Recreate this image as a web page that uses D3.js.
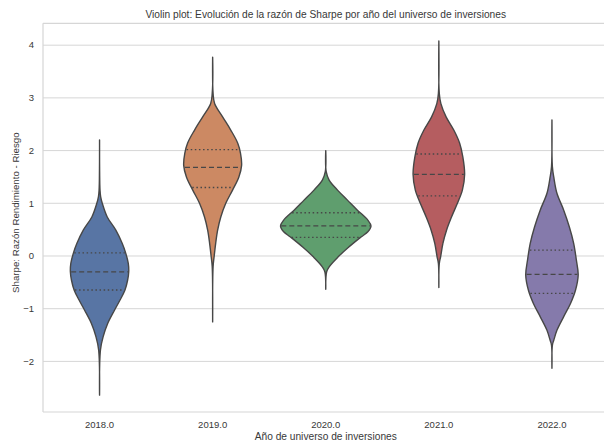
<!DOCTYPE html>
<html>
<head>
<meta charset="utf-8">
<script src="https://cdn.jsdelivr.net/npm/d3@7/dist/d3.min.js"></script>
<style>
  body { margin: 0; background: #fff; }
  svg { display: block; }
  text { font-family: "Liberation Sans", Arial, sans-serif; fill: #383838; }
</style>
</head>
<body>
<svg id="chart" width="604" height="441"></svg>
<script>
// Categories (year of the investment universe)
const years = ["2018.0", "2019.0", "2020.0", "2021.0", "2022.0"];
const colors = ["#5875a4", "#cc8963", "#5f9e6e", "#b55d60", "#857aab"];
const yTicks = [-2, -1, 0, 1, 2, 3, 4];

// Kernel density outline per year: [Sharpe ratio, relative density]
const density2018 = [
  [2.20, 0], [1.25, 0.01], [1.12, 0.025], [1.00, 0.06], [0.74, 0.17], [0.49, 0.36],
  [0.24, 0.50], [0.05, 0.58], [-0.14, 0.635], [-0.30, 0.645], [-0.46, 0.62],
  [-0.65, 0.56], [-0.84, 0.45], [-1.03, 0.33], [-1.28, 0.18], [-1.53, 0.08],
  [-1.78, 0.02], [-2.64, 0]
];
const density2019 = [
  [3.77, 0], [3.08, 0.01], [2.89, 0.045], [2.64, 0.22], [2.39, 0.40], [2.14, 0.555],
  [1.95, 0.615], [1.72, 0.64], [1.50, 0.58], [1.25, 0.44], [1.00, 0.29],
  [0.74, 0.18], [0.49, 0.11], [0.24, 0.067], [-0.01, 0.033], [-0.20, 0.01], [-1.25, 0]
];
const density2020 = [
  [2.00, 0], [1.60, 0.01], [1.44, 0.075], [1.25, 0.26], [1.06, 0.48], [0.87, 0.70],
  [0.68, 0.93], [0.57, 1.00], [0.46, 0.93], [0.36, 0.78], [0.17, 0.51],
  [-0.02, 0.27], [-0.20, 0.08], [-0.30, 0.02], [-0.63, 0]
];
const density2021 = [
  [4.08, 0], [3.08, 0.01], [2.89, 0.045], [2.64, 0.16], [2.39, 0.33], [2.14, 0.46],
  [1.88, 0.53], [1.55, 0.57], [1.25, 0.52], [1.00, 0.41], [0.74, 0.28],
  [0.49, 0.17], [0.24, 0.09], [-0.01, 0.04], [-0.14, 0.01], [-0.60, 0]
];
const density2022 = [
  [2.58, 0], [1.69, 0.01], [1.50, 0.04], [1.19, 0.11], [0.87, 0.26], [0.55, 0.385],
  [0.24, 0.48], [-0.08, 0.54], [-0.36, 0.58], [-0.65, 0.52], [-0.90, 0.41],
  [-1.15, 0.26], [-1.41, 0.11], [-1.60, 0.04], [-1.69, 0.01], [-2.13, 0]
];

// Quartiles per year: [Q1, median, Q3]
const quartiles2018 = [-0.645, -0.30, 0.06];
const quartiles2019 = [1.30, 1.68, 2.02];
const quartiles2020 = [0.355, 0.57, 0.82];
const quartiles2021 = [1.14, 1.55, 1.935];
const quartiles2022 = [-0.71, -0.35, 0.11];

const densities = [density2018, density2019, density2020, density2021, density2022];
const quartiles = [quartiles2018, quartiles2019, quartiles2020, quartiles2021, quartiles2022];

const svg = d3.select("#chart");
const margin = { left: 43, right: -4.5, top: 23.3, bottom: 29 };
const W = 604, H = 441;

const x = d3.scaleBand().domain(years).range([margin.left, W - margin.right]).padding(0);
const y = d3.scaleLinear().domain([-2.96, 4.415]).range([H - margin.bottom, margin.top]);
const w = d3.scaleLinear().domain([0, 1]).range([0, 0.4 * x.bandwidth()]);

const gridColor = "#d6d6d6";
const lineColor = "#474747";

// horizontal grid
svg.append("g").selectAll("line").data(yTicks).join("line")
  .attr("x1", margin.left).attr("x2", W)
  .attr("y1", d => y(d)).attr("y2", d => y(d))
  .attr("stroke", gridColor).attr("stroke-width", 1);

// frame
const [y0, y1] = y.range();
svg.append("line").attr("x1", margin.left).attr("x2", margin.left).attr("y1", y1).attr("y2", y0)
  .attr("stroke", gridColor).attr("stroke-width", 1.2);
svg.append("line").attr("x1", margin.left).attr("x2", W).attr("y1", y0).attr("y2", y0)
  .attr("stroke", gridColor).attr("stroke-width", 1.2);
svg.append("line").attr("x1", margin.left).attr("x2", W).attr("y1", y1).attr("y2", y1)
  .attr("stroke", gridColor).attr("stroke-width", 1.2);

// violins
years.forEach((yr, i) => {
  const cx = x(yr) + x.bandwidth() / 2;
  const prof = densities[i];
  const area = d3.area()
    .y(d => y(d[0]))
    .x0(d => cx - w(d[1]))
    .x1(d => cx + w(d[1]))
    .curve(d3.curveCatmullRom.alpha(0.5));
  svg.append("path").datum(prof)
    .attr("d", area)
    .attr("fill", colors[i])
    .attr("stroke", lineColor)
    .attr("stroke-width", 1.4)
    .attr("stroke-linejoin", "round");

  const halfAt = d3.scaleLinear().domain(prof.map(d => d[0])).range(prof.map(d => d[1]));
  quartiles[i].forEach((q, k) => {
    const hw = w(halfAt(q)) - 0.8;
    svg.append("line")
      .attr("x1", cx - hw).attr("x2", cx + hw)
      .attr("y1", y(q)).attr("y2", y(q))
      .attr("stroke", lineColor)
      .attr("stroke-width", 1.3)
      .attr("stroke-dasharray", k === 1 ? "5,3" : "1.5,2.6");
  });
});

// y axis labels
svg.append("g").selectAll("text").data(yTicks).join("text")
  .attr("x", 34).attr("y", d => y(d)).attr("dy", "0.35em")
  .attr("text-anchor", "end").attr("font-size", 9.5)
  .text(d => d < 0 ? "\u2212" + Math.abs(d) : d);

// x axis labels
svg.append("g").selectAll("text").data(years).join("text")
  .attr("x", d => x(d) + x.bandwidth() / 2).attr("y", 428)
  .attr("text-anchor", "middle").attr("font-size", 9.5)
  .text(d => d);

// axis titles
svg.append("text")
  .attr("x", (margin.left + W - margin.right) / 2).attr("y", 439.5)
  .attr("text-anchor", "middle").attr("font-size", 10.2)
  .text("Año de universo de inversiones");

svg.append("text")
  .attr("transform", `translate(18.5,${(y0 + y1) / 2 - 5}) rotate(-90)`)
  .attr("text-anchor", "middle").attr("font-size", 9.7)
  .text("Sharpe: Razón Rendimiento - Riesgo");

svg.append("text")
  .attr("x", (margin.left + W - margin.right) / 2).attr("y", 18.3)
  .attr("text-anchor", "middle").attr("font-size", 10.2)
  .text("Violin plot: Evolución de la razón de Sharpe por año del universo de inversiones");
</script>
</body>
</html>
